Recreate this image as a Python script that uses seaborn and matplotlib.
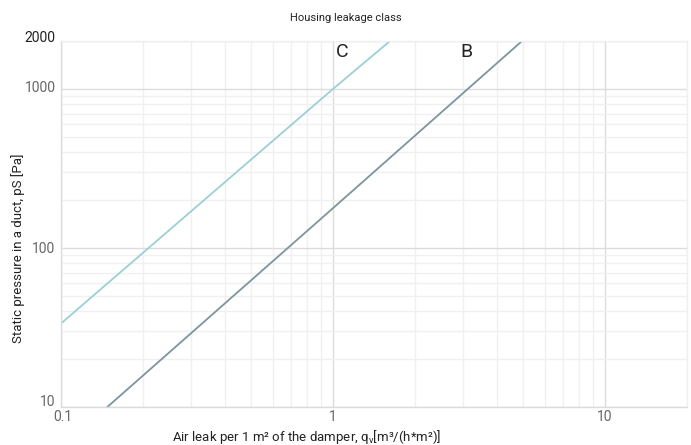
import matplotlib
matplotlib.use("Agg")
import matplotlib.pyplot as plt
import matplotlib.transforms as mtransforms
import seaborn as sns
import pandas as pd
import numpy as np
from matplotlib.ticker import FixedLocator, LogLocator, NullFormatter

sns.set_theme(style="white")
plt.rcParams['font.family'] = ['Roboto', 'DejaVu Sans']
plt.rcParams['mathtext.fontset'] = 'custom'
plt.rcParams['mathtext.rm'] = 'Roboto'
plt.rcParams['mathtext.it'] = 'Roboto:italic'

# Data (straight lines on log-log axes, endpoints)
class_c_x = [0.1, 1.0, 1.62]
class_c_y = [33.5, 1000, 2000]
class_b_x = [0.148, 1.0, 4.95]
class_b_y = [10, 178, 2000]

df = pd.concat([
    pd.DataFrame({"x": class_c_x, "y": class_c_y, "cls": "C"}),
    pd.DataFrame({"x": class_b_x, "y": class_b_y, "cls": "B"}),
])

fig = plt.figure(figsize=(6.91, 4.45), dpi=100)
ax = fig.add_axes([61/691, 38/445, (687-61)/691, (407-41)/445])
ax.set_xscale("log")
ax.set_yscale("log")
ax.set_xlim(0.1, 20)
ax.set_ylim(10, 2000)

sns.lineplot(data=df, x="x", y="y", hue="cls", palette={"C": "#9ccfd6", "B": "#7d959c"},
             linewidth=1.3, ax=ax, legend=False)

# grid
ax.xaxis.set_major_locator(FixedLocator([0.1, 1, 10]))
ax.xaxis.set_minor_locator(LogLocator(base=10, subs=np.arange(2, 10)))
ax.yaxis.set_major_locator(FixedLocator([10, 100, 1000, 2000]))
ax.yaxis.set_minor_locator(LogLocator(base=10, subs=np.arange(2, 10)))
ax.xaxis.set_minor_formatter(NullFormatter())
ax.yaxis.set_minor_formatter(NullFormatter())
ax.set_xticklabels(["0.1", "1", "10"])
ax.set_yticklabels(["10", "100", "1000", "2000"])
ax.grid(which="minor", color="#f0f0f0", linewidth=1.0)
ax.grid(which="major", color="#dcdcdc", linewidth=1.0)
ax.set_axisbelow(True)
ax.tick_params(which="both", length=0, labelsize=10, labelcolor="#666666")
ax.tick_params(axis="y", pad=4)
ax.tick_params(axis="x", pad=2)
for lab, dy in zip(ax.get_yticklabels(), [6, 0, 2, 5]):
    shift = mtransforms.ScaledTranslation(0, dy / 100, fig.dpi_scale_trans)
    lab.set_transform(lab.get_transform() + shift)
ax.get_yticklabels()[-1].set_color("#222222")
for lab, dx in zip(ax.get_xticklabels(), [2, 0, 0]):
    shift = mtransforms.ScaledTranslation(dx / 100, 0, fig.dpi_scale_trans)
    lab.set_transform(lab.get_transform() + shift)
for s in ["top", "right"]:
    ax.spines[s].set_color("#f0f0f0")
for s in ["left", "bottom"]:
    ax.spines[s].set_color("#dcdcdc")
for s in ax.spines.values():
    s.set_linewidth(1.0)

ax.text(1.02, 1950, "C", fontsize=14, color="#222222", ha="left", va="top")
ax.text(3.1, 1950, "B", fontsize=14, color="#222222", ha="center", va="top")

ax.set_xlabel(r"Air leak per 1 m² of the damper, q$_\mathrm{v}$[m³/(h*m²)]", fontsize=9.5,
              color="#222222")
ax.set_ylabel("Static pressure in a duct, pS [Pa]", fontsize=9.5, color="#222222")
ax.xaxis.set_label_coords((307 - 61) / 626, -(437 - 407) / 366)
ax.yaxis.set_label_coords(-(61 - 18) / 626, (407 - 248) / 366)
ax.xaxis.label.set_va("center")
ax.yaxis.label.set_va("center")
fig.text(0.5, 1 - 18/445, "Housing leakage class", ha="center", va="center",
         fontsize=8, color="#222222")

fig.savefig("out.png", dpi=100)
